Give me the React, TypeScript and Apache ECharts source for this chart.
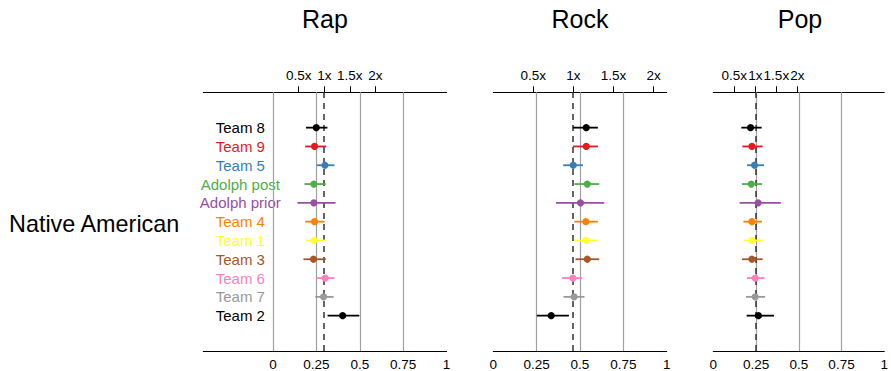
import React, { useEffect, useRef } from "react";
import * as echarts from "echarts";

// ---- data ----
const teams = ["Team 8", "Team 9", "Team 5", "Adolph post", "Adolph prior", "Team 4", "Team 1", "Team 3", "Team 6", "Team 7", "Team 2"];
const teamColors = ["#000000", "#E41A1C", "#377EB8", "#4DAF4A", "#984EA3", "#FF7F00", "#FFFF33", "#A65628", "#F781BF", "#999999", "#000000"];
const genres = ["Rap", "Rock", "Pop"];
const rowLabel = "Native American";

const rapEst = [0.249, 0.239, 0.299, 0.235, 0.235, 0.239, 0.237, 0.233, 0.300, 0.291, 0.401];
const rapLo = [0.190, 0.185, 0.252, 0.181, 0.141, 0.185, 0.189, 0.175, 0.249, 0.243, 0.314];
const rapHi = [0.313, 0.306, 0.354, 0.304, 0.360, 0.297, 0.300, 0.304, 0.354, 0.349, 0.497];

const rockEst = [0.536, 0.536, 0.461, 0.542, 0.503, 0.534, 0.534, 0.542, 0.459, 0.466, 0.334];
const rockLo = [0.459, 0.459, 0.403, 0.468, 0.362, 0.468, 0.466, 0.474, 0.397, 0.405, 0.251];
const rockHi = [0.603, 0.603, 0.517, 0.611, 0.640, 0.603, 0.603, 0.611, 0.513, 0.526, 0.436];

const popEst = [0.218, 0.226, 0.241, 0.222, 0.262, 0.226, 0.226, 0.226, 0.245, 0.245, 0.264];
const popLo = [0.164, 0.170, 0.197, 0.168, 0.154, 0.176, 0.176, 0.168, 0.197, 0.191, 0.195];
const popHi = [0.283, 0.289, 0.297, 0.285, 0.395, 0.285, 0.289, 0.289, 0.299, 0.303, 0.355];

const baselines = [0.295, 0.462, 0.246];
const multipliers = [0.5, 1, 1.5, 2];
const multiplierLabels = ["0.5x", "1x", "1.5x", "2x"];
const bottomTicks = [0, 0.25, 0.5, 0.75, 1];
const gridValues = [0, 0.25, 0.5, 0.75];

const panelEst = [rapEst, rockEst, popEst];
const panelLo = [rapLo, rockLo, popLo];
const panelHi = [rapHi, rockHi, popHi];

// ---- layout ----
const FONT = "Liberation Sans, Arial, Helvetica, sans-serif";
const panels = [
  { left: 203.3, width: 243.3, min: -0.402, max: 1 },
  { left: 493.3, width: 173.4, min: 0, max: 1 },
  { left: 713.3, width: 173.4, min: 0, max: 1 },
];
const GRID_TOP = 92.3;
const GRID_H = 261;
const Y_MIN = -0.88;
const Y_MAX = 12.88;

export default function App() {
  const ref = useRef<HTMLDivElement>(null);

  useEffect(() => {
    if (!ref.current) return;
    const chart = echarts.init(ref.current, null, { renderer: "svg" });
    const n = teams.length;
    const rows = teams.map((_, i) => n - i);

    const grid: any[] = [];
    const xAxis: any[] = [];
    const yAxis: any[] = [];
    const series: any[] = [];
    const graphic: any[] = [];

    panels.forEach((p, pi) => {
      grid.push({ left: p.left, top: GRID_TOP, width: p.width, height: GRID_H, containLabel: false });
      // bottom axis
      xAxis.push({
        type: "value", gridIndex: pi, position: "bottom", min: p.min, max: p.max,
        axisLine: { show: true, onZero: false, lineStyle: { color: "#000", width: 1 } },
        axisTick: { show: false },
        splitLine: { show: false },
        axisLabel: {
          show: true, customValues: bottomTicks, margin: 6, color: "#000",
          fontSize: 13.5, fontFamily: FONT, formatter: (v: number) => String(v),
          showMinLabel: true, showMaxLabel: true, hideOverlap: false,
        },
      });
      // top multiplier axis
      const tv = multipliers.map((m) => m * baselines[pi]);
      xAxis.push({
        type: "value", gridIndex: pi, position: "top", min: p.min, max: p.max,
        axisLine: { show: true, onZero: false, lineStyle: { color: "#000", width: 1 } },
        axisTick: { show: true, customValues: tv, length: 6, lineStyle: { color: "#000", width: 1 } },
        splitLine: { show: false },
        axisLabel: {
          show: true, customValues: tv, margin: 10, color: "#000",
          fontSize: 13.5, fontFamily: FONT, hideOverlap: false,
          formatter: (v: number) => {
            let best = 0;
            tv.forEach((t, k) => { if (Math.abs(t - v) < Math.abs(tv[best] - v)) best = k; });
            return multiplierLabels[best];
          },
        },
      });
      const rich: any = {};
      teams.forEach((_, i) => { rich["c" + i] = { color: teamColors[i], fontSize: 15, fontFamily: FONT }; });
      yAxis.push({
        type: "value", gridIndex: pi, min: Y_MIN, max: Y_MAX,
        axisLine: { show: false }, axisTick: { show: false }, splitLine: { show: false },
        axisLabel: pi === 0 ? {
          show: true, customValues: rows, align: "center", margin: -37,
          formatter: (v: number) => { const i = n - v; return `{c${i}|${teams[i]}}`; },
          rich,
        } : { show: false },
      });

      const data = teams.map((_, i) => [panelLo[pi][i], panelHi[pi][i], panelEst[pi][i], rows[i]]);
      const lineData: any[] = gridValues.filter((g) => g > p.min).map((g) => ({
        xAxis: g, lineStyle: { color: "#a0a0a0", width: 1.2, type: "solid" },
      }));
      lineData.push({ xAxis: baselines[pi], lineStyle: { color: "#333", width: 1.5, type: [6, 5] } });

      series.push({
        type: "custom", name: genres[pi], xAxisIndex: pi * 2, yAxisIndex: pi,
        data, encode: { x: [0, 1, 2], y: 3 },
        renderItem: (params: any, api: any) => {
          const y = api.value(3);
          const a = api.coord([api.value(0), y]);
          const b = api.coord([api.value(1), y]);
          const c = api.coord([api.value(2), y]);
          const color = teamColors[params.dataIndex];
          return {
            type: "group",
            children: [
              { type: "line", shape: { x1: a[0], y1: a[1], x2: b[0], y2: b[1] }, style: { stroke: color, lineWidth: 1.8 } },
              { type: "circle", shape: { cx: c[0], cy: c[1], r: 3.6 }, style: { fill: color } },
            ],
          };
        },
        markLine: { silent: true, symbol: "none", label: { show: false }, data: lineData, z: 1 },
        z: 5,
      });

      graphic.push({
        type: "text", x: p.left + p.width / 2, y: 19,
        style: { text: genres[pi], fontSize: 25, fontFamily: FONT, fill: "#000", textAlign: "center", textVerticalAlign: "middle" },
      });
    });

    graphic.push({
      type: "text", x: 9, y: 224.3,
      style: { text: rowLabel, fontSize: 23.4, fontFamily: FONT, fill: "#000", textAlign: "left", textVerticalAlign: "middle" },
    });

    chart.setOption({
      animation: false,
      backgroundColor: "#fff",
      grid, xAxis, yAxis, series, graphic,
    });
    return () => chart.dispose();
  }, []);

  return <div ref={ref} style={{ position: "fixed", left: 0, top: 0, width: 891, height: 371 }} />;
}
